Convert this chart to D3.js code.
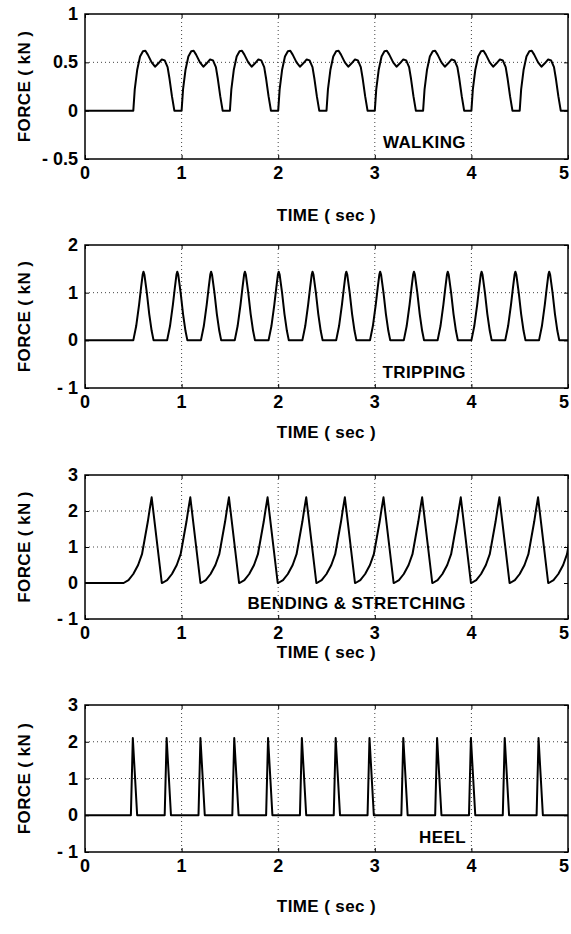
<!DOCTYPE html>
<html>
<head>
<meta charset="utf-8">
<script src="https://cdn.jsdelivr.net/npm/d3@7"></script>
<style>
  body { margin: 0; background: #fff; }
  text { font-family: "Liberation Sans", Arial, sans-serif; font-weight: bold; fill: #000; }
</style>
</head>
<body>
<div id="chart"></div>
<script>
// pulse shapes: [time from onset (s), force (kN)]
const walkingShape = [[0, 0], [0.015, 0.22], [0.04, 0.42], [0.07, 0.56], [0.1, 0.615], [0.125, 0.62], [0.15, 0.58],
    [0.19, 0.5], [0.225, 0.455], [0.26, 0.49], [0.295, 0.53], [0.325, 0.52], [0.355, 0.45], [0.375, 0.33], [0.4, 0.15], [0.425, 0]];
const trippingShape = [[0, 0], [0.03, 0.3], [0.06, 0.75], [0.08, 1.1], [0.097, 1.38], [0.105, 1.44], [0.115, 1.38],
    [0.14, 1.0], [0.165, 0.55], [0.19, 0.2], [0.21, 0]];
const bendingShape = [[0, 0], [0.05, 0.08], [0.1, 0.25], [0.15, 0.5], [0.19, 0.8], [0.22, 1.25], [0.25, 1.7],
    [0.27, 2.05], [0.29, 2.38], [0.395, 0]];
const heelShape = [[0, 0], [0.02, 2.1], [0.065, 0]];

// pulse onset times (s)
const walkingOnsets = [0.5, 1.0, 1.5, 2.0, 2.5, 3.0, 3.5, 4.0, 4.5];
const trippingOnsets = [0.5, 0.85, 1.2, 1.55, 1.9, 2.25, 2.6, 2.95, 3.3, 3.65, 4.0, 4.35, 4.7];
const bendingOnsets = [0.4, 0.8, 1.2, 1.6, 2.0, 2.4, 2.8, 3.2, 3.6, 4.0, 4.4, 4.8];
const heelOnsets = [0.475, 0.825, 1.175, 1.525, 1.875, 2.225, 2.575, 2.925, 3.275, 3.625, 3.975, 4.325, 4.675];

const timeTicks = [0, 1, 2, 3, 4, 5];
const walkingTicks = [-0.5, 0, 0.5, 1];
const walkingTickLabels = ['- 0.5', '0', '0.5', '1'];
const trippingTicks = [-1, 0, 1, 2];
const trippingTickLabels = ['- 1', '0', '1', '2'];
const bendingTicks = [-1, 0, 1, 2, 3];
const bendingTickLabels = ['- 1', '0', '1', '2', '3'];

const width = 571, height = 934;
const svg = d3.select('#chart').append('svg')
    .attr('width', width)
    .attr('height', height);

function buildSeries(shape, onsets) {
    const pts = [[0, 0]];
    onsets.forEach(t0 => shape.forEach(p => pts.push([t0 + p[0], p[1]])));
    pts.push([5.2, 0]);
    return pts;
}

const panels = [
    { top: 14, bottom: 159, yDomain: [-0.5, 1], ticks: walkingTicks, labels: walkingTickLabels,
      series: buildSeries(walkingShape, walkingOnsets), name: 'WALKING', nameY: 148, timeY: 221 },
    { top: 245, bottom: 388, yDomain: [-1, 2], ticks: trippingTicks, labels: trippingTickLabels,
      series: buildSeries(trippingShape, trippingOnsets), name: 'TRIPPING', nameY: 378, timeY: 438 },
    { top: 475, bottom: 619, yDomain: [-1, 3], ticks: bendingTicks, labels: bendingTickLabels,
      series: buildSeries(bendingShape, bendingOnsets), name: 'BENDING & STRETCHING', nameY: 609, timeY: 658 },
    { top: 705, bottom: 852, yDomain: [-1, 3], ticks: bendingTicks, labels: bendingTickLabels,
      series: buildSeries(heelShape, heelOnsets), name: 'HEEL', nameY: 843, timeY: 912 },
];

const left = 85, right = 568;
const x = d3.scaleLinear().domain([0, 5]).range([left, right]);

panels.forEach((p, i) => {
    const y = d3.scaleLinear().domain(p.yDomain).range([p.bottom, p.top]);
    const g = svg.append('g');

    g.append('clipPath').attr('id', 'clip' + i)
        .append('rect')
        .attr('x', left).attr('y', p.top)
        .attr('width', right - left).attr('height', p.bottom - p.top);

    // dotted grid
    g.selectAll('.vgrid').data(timeTicks.slice(1, -1)).enter().append('line')
        .attr('x1', d => x(d)).attr('x2', d => x(d))
        .attr('y1', p.top).attr('y2', p.bottom)
        .attr('stroke', '#444').attr('stroke-width', 1).attr('stroke-dasharray', '1,3');
    g.selectAll('.hgrid').data(p.ticks.filter(d => d !== p.yDomain[0] && d !== p.yDomain[1] && d !== 0)).enter().append('line')
        .attr('x1', left).attr('x2', right)
        .attr('y1', d => y(d)).attr('y2', d => y(d))
        .attr('stroke', '#444').attr('stroke-width', 1).attr('stroke-dasharray', '1,3');

    // force curve
    const line = d3.line().x(d => x(d[0])).y(d => y(d[1]));
    g.append('path')
        .datum(p.series)
        .attr('clip-path', `url(#clip${i})`)
        .attr('d', line)
        .attr('fill', 'none')
        .attr('stroke', '#000')
        .attr('stroke-width', 2)
        .attr('stroke-linejoin', 'round');

    // axes with inward ticks
    g.append('g').attr('transform', `translate(0,${p.bottom})`)
        .call(d3.axisBottom(x).tickValues(timeTicks).tickSize(-4).tickFormat(''))
        .call(a => a.select('.domain').remove());
    g.append('g').attr('transform', `translate(0,${p.top})`)
        .call(d3.axisTop(x).tickValues(timeTicks).tickSize(-4).tickFormat(''))
        .call(a => a.select('.domain').remove());
    g.append('g').attr('transform', `translate(${left},0)`)
        .call(d3.axisLeft(y).tickValues(p.ticks).tickSize(-4).tickFormat(''))
        .call(a => a.select('.domain').remove());
    g.append('g').attr('transform', `translate(${right},0)`)
        .call(d3.axisRight(y).tickValues(p.ticks).tickSize(-4).tickFormat(''))
        .call(a => a.select('.domain').remove());

    g.append('rect')
        .attr('x', left).attr('y', p.top)
        .attr('width', right - left).attr('height', p.bottom - p.top)
        .attr('fill', 'none').attr('stroke', '#000').attr('stroke-width', 1.5);

    // tick labels
    g.selectAll('.xl').data(timeTicks).enter().append('text')
        .attr('x', d => Math.min(x(d), 564)).attr('y', p.bottom + 20)
        .attr('text-anchor', 'middle')
        .style('font-size', '18px')
        .text(d => d);
    g.selectAll('.yl').data(p.ticks).enter().append('text')
        .attr('x', left - 7).attr('y', d => y(d) + 6)
        .attr('text-anchor', 'end')
        .style('font-size', '18px')
        .text((d, j) => p.labels[j]);

    // axis titles
    g.append('text')
        .attr('transform', `translate(30,${(p.top + p.bottom) / 2}) rotate(-90)`)
        .attr('text-anchor', 'middle')
        .style('font-size', '17px')
        .style('letter-spacing', '0.4px')
        .text('FORCE ( kN )');
    g.append('text')
        .attr('x', (left + right) / 2).attr('y', p.timeY)
        .attr('text-anchor', 'middle')
        .style('font-size', '17px')
        .style('letter-spacing', '0.4px')
        .text('TIME ( sec )');

    // activity label
    g.append('text')
        .attr('x', 466).attr('y', p.nameY)
        .attr('text-anchor', 'end')
        .style('font-size', '17px')
        .style('letter-spacing', '0.4px')
        .text(p.name);
});
</script>
</body>
</html>
